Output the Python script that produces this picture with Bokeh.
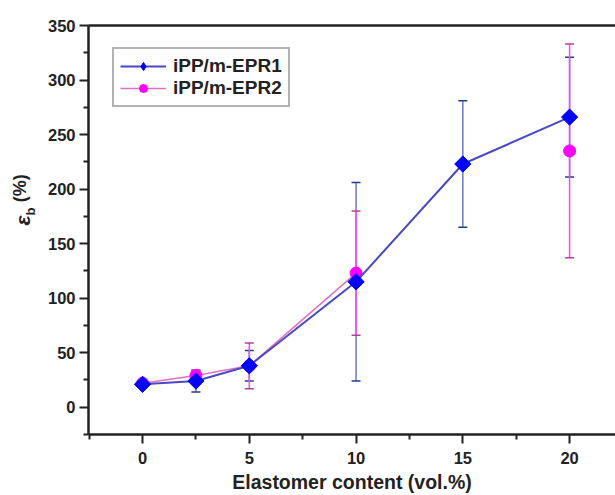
import math
from bokeh.plotting import figure
from bokeh.layouts import row
from bokeh.core.properties import value
from bokeh.models import (ColumnDataSource, Whisker, TeeHead, FixedTicker, LinearAxis,
                          Range1d, Legend, LegendItem)
from bokeh.embed import file_html
from bokeh.resources import INLINE

# ---- data ----
x1 = [0, 2.5, 5, 10, 15, 20]
y1 = [21, 24, 38, 115, 223, 266]
err1 = [3, 10, 14, 91, 58, 55]

x2 = [0, 2.5, 5, 10, 20]
y2 = [22, 29, 38, 123, 235]
err2 = [2, 5, 21, 57, 98]

x_ticks = [0, 5, 10, 15, 20]
y_ticks = [0, 50, 100, 150, 200, 250, 300, 350]

FONT = "Liberation Sans"
TXT = "#222222"

# ---- narrow panel holding the rotated y-axis title ----
ylab = figure(width=40, height=495, output_backend="svg", toolbar_location=None,
              x_range=Range1d(0, 40), y_range=Range1d(495, 0),
              x_axis_location=None, y_axis_location=None,
              min_border_left=0, min_border_right=0, min_border_top=0, min_border_bottom=0)
ylab.outline_line_color = None
ylab.grid.visible = False
ylab.text(x=[22], y=[236], text=["ε"], angle=math.pi / 2, text_font=value(FONT),
          text_font_style="bold italic", text_font_size="21px", text_color=TXT,
          text_align="center", text_baseline="middle")
ylab.text(x=[30], y=[225], text=["b"], angle=math.pi / 2, text_font=value(FONT),
          text_font_style="bold", text_font_size="13px", text_color=TXT,
          text_align="center", text_baseline="middle")
ylab.text(x=[19], y=[197], text=["(%)"], angle=math.pi / 2, text_font=value(FONT),
          text_font_style="bold", text_font_size="18px", text_color=TXT,
          text_align="center", text_baseline="middle")

# ---- main plot ----
p = figure(width=575, height=495, output_backend="svg", toolbar_location=None,
           x_range=Range1d(-2.53, 22.15), y_range=Range1d(-25, 350),
           min_border_left=48, min_border_top=25, min_border_right=0, min_border_bottom=60)
p.outline_line_color = None
p.grid.visible = False
p.background_fill_color = "white"

s1 = ColumnDataSource(dict(x=x1, y=y1, lo=[a - b for a, b in zip(y1, err1)], hi=[a + b for a, b in zip(y1, err1)]))
s2 = ColumnDataSource(dict(x=x2, y=y2, lo=[a - b for a, b in zip(y2, err2)], hi=[a + b for a, b in zip(y2, err2)]))
s2line = ColumnDataSource(dict(x=x2[:4], y=y2[:4]))

# error bars: blue first, magenta over
w1 = Whisker(source=s1, base="x", upper="hi", lower="lo", line_color="#6a78c8", line_width=1.5,
             upper_head=TeeHead(size=9, line_color="#2a3a8a", line_width=1.5),
             lower_head=TeeHead(size=9, line_color="#2a3a8a", line_width=1.5))
w2 = Whisker(source=s2, base="x", upper="hi", lower="lo", line_color="#ff44ff", line_width=1.5,
             upper_head=TeeHead(size=9, line_color="#b040a0", line_width=1.5),
             lower_head=TeeHead(size=9, line_color="#b040a0", line_width=1.5))
p.add_layout(w1)
p.add_layout(w2)

l2 = p.line("x", "y", source=s2line, line_color="#e070c0", line_width=1.5)
m2 = p.scatter("x", "y", source=s2, marker="circle", size=12, fill_color="#ff00ff", line_color="#ff00ff")
l1 = p.line("x", "y", source=s1, line_color="#4848c8", line_width=2)
# diamond used for the legend entry (sits fully under the rotated squares)
m1_leg = p.scatter("x", "y", source=s1, marker="diamond", size=15, fill_color="#0000ff", line_color="#0000ff")
m1 = p.scatter("x", "y", source=s1, marker="square", angle=math.pi / 4, size=11.5,
               fill_color="#0000ff", line_color="#0000ff")

# axes
for ax in (p.xaxis[0], p.yaxis[0]):
    ax.axis_line_width = 2.5
    ax.axis_line_color = "#222222"
    ax.major_tick_line_width = 2
    ax.minor_tick_line_width = 2
    ax.major_tick_line_color = "#222222"
    ax.minor_tick_line_color = "#222222"
    ax.major_tick_out = 9
    ax.major_tick_in = 0
    ax.minor_tick_out = 5
    ax.minor_tick_in = 0
    ax.major_label_text_font = FONT
    ax.major_label_text_font_style = "bold"
    ax.major_label_text_font_size = "16.5px"
    ax.major_label_text_color = TXT

p.xaxis[0].ticker = FixedTicker(ticks=x_ticks, minor_ticks=[-2.5, 2.5, 7.5, 12.5, 17.5])
p.yaxis[0].ticker = FixedTicker(ticks=y_ticks, minor_ticks=[-25, 25, 75, 125, 175, 225, 275, 325])
p.xaxis[0].major_label_standoff = 8
p.yaxis[0].major_label_standoff = 4
p.xaxis[0].axis_label = "Elastomer content (vol.%)"
p.xaxis[0].axis_label_text_font = FONT
p.xaxis[0].axis_label_text_font_style = "bold"
p.xaxis[0].axis_label_text_font_size = "19.5px"
p.xaxis[0].axis_label_text_color = TXT
p.xaxis[0].axis_label_standoff = 4

top = LinearAxis(axis_line_width=2.5, axis_line_color="#222222", major_tick_line_color=None,
                 minor_tick_line_color=None, major_label_text_font_size="0px",
                 ticker=FixedTicker(ticks=[]))
p.add_layout(top, "above")

legend = Legend(items=[LegendItem(label="iPP/m-EPR1", renderers=[l1, m1_leg]),
                       LegendItem(label="iPP/m-EPR2", renderers=[l2, m2])],
                location=(24, 327), label_text_font=FONT, label_text_font_style="bold",
                label_text_font_size="19px", label_text_color=TXT,
                border_line_color="#666666", border_line_width=2,
                glyph_width=46, glyph_height=20, label_height=20, spacing=0, padding=6, margin=0,
                label_standoff=7)
p.add_layout(legend)

layout = row(ylab, p, spacing=0)
open("out.html", "w").write(file_html(layout, INLINE))
